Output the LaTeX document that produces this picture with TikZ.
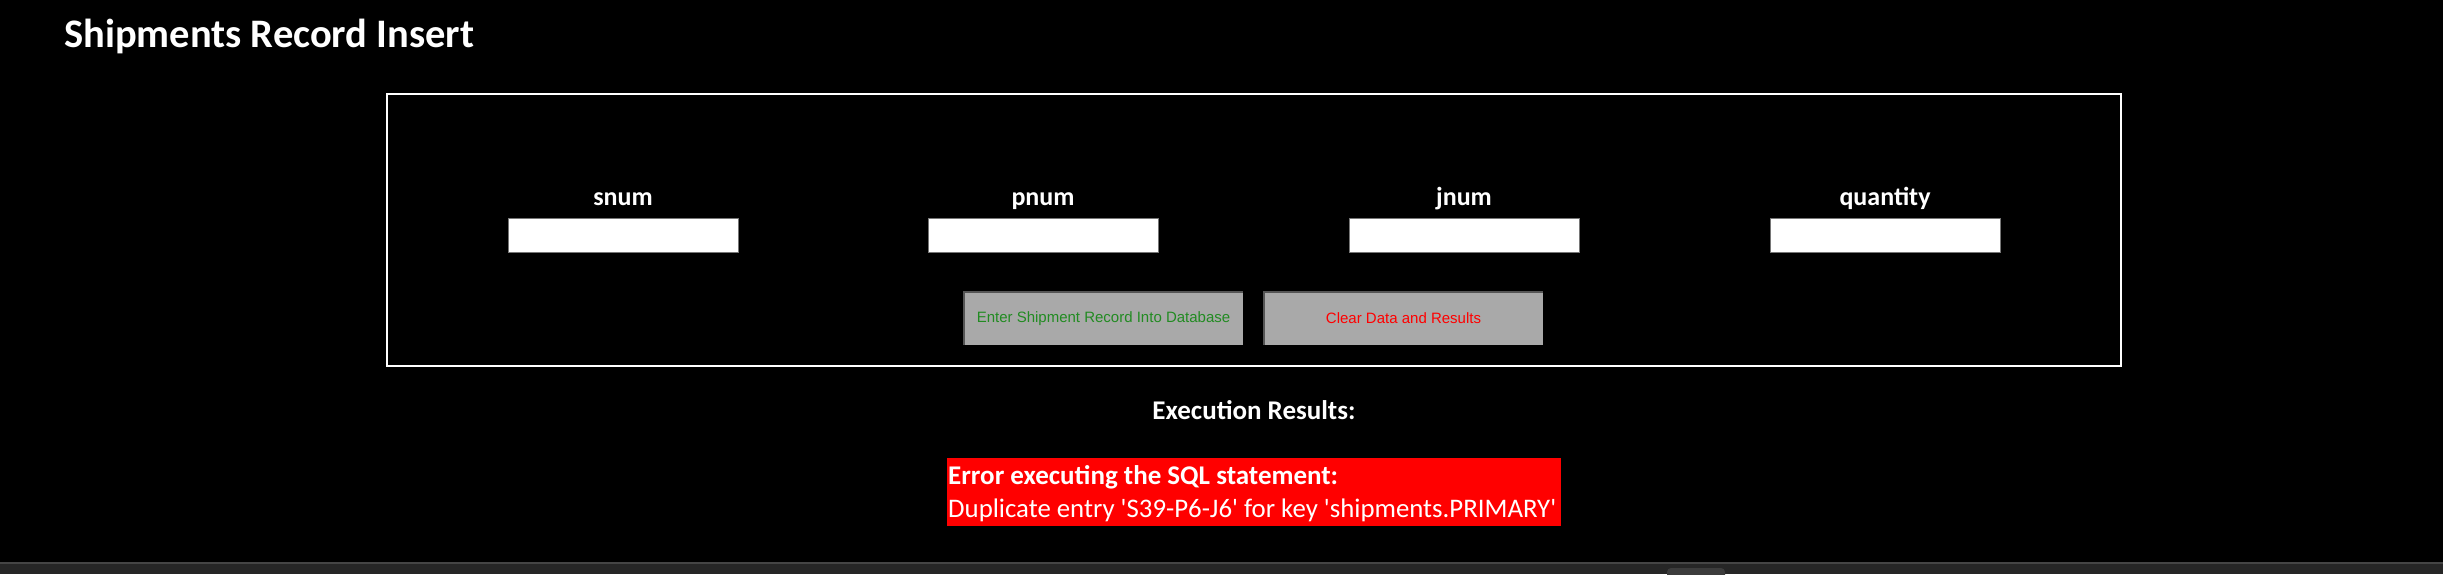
\documentclass[tikz,border=0pt]{standalone}
\usepackage{fontspec}
\setmainfont{Carlito}
\newfontfamily\arialfont{Liberation Sans}
\newfontfamily\straightquotes{Carlito}[Ligatures=TeXOff]
\usepackage{tikz}

\definecolor{btngray}{RGB}{169,169,169}
\definecolor{btnedge}{RGB}{85,85,85}
\definecolor{okgreen}{RGB}{34,139,34}
\definecolor{barfill}{RGB}{38,38,38}
\definecolor{barline}{RGB}{69,69,69}
\definecolor{barbtn}{RGB}{60,60,60}
\definecolor{inputedge}{RGB}{118,118,118}

\tikzset{
  fieldlabel/.style={text=white, font=\bfseries\fontsize{26}{30}\selectfont, inner sep=0pt, anchor=base},
  fieldbox/.style={draw=inputedge, fill=white, line width=1pt, minimum width=230pt, minimum height=34pt, inner sep=0pt},
  formbutton/.style={fill=btngray, minimum width=279pt, minimum height=53pt, inner sep=0pt, font=\arialfont\fontsize{15}{18}\selectfont},
  errline/.style={text=white, inner sep=0pt, anchor=base west},
}

\begin{document}
\begin{tikzpicture}[x=1pt,y=1pt,yscale=-1,xscale=1]
%page background
\fill [black] (0,0) rectangle (2443,574) ;
\useasboundingbox (0,0) rectangle (2443,574) ;

%Title
\node [text=white, font=\bfseries\fontsize{40.5}{46}\selectfont, inner sep=0pt, anchor=base west] (title) at (64,47) {Shipments Record Insert};

%Form frame
\draw [white, line width=2pt]  (387,94) rectangle (2121,366) ;

%Field labels
\node [fieldlabel] (snumlbl) at (623,205) {snum};
\node [fieldlabel] (pnumlbl) at (1043,205) {pnum};
\node [fieldlabel] (jnumlbl) at (1464,205) {jnum};
\node [fieldlabel] (qtylbl) at (1885,205) {quantity};

%Input fields
\node [fieldbox] (snum) at (623,235) {};
\node [fieldbox] (pnum) at (1043,235) {};
\node [fieldbox] (jnum) at (1464,235) {};
\node [fieldbox] (qty) at (1885,235) {};

%Buttons
\node [formbutton, text=okgreen] (enter) at (1103.5,318.5) {Enter Shipment Record Into Database};
\draw [btnedge, line width=2pt]  (enter.south west) -- (enter.north west) -- (enter.north east) ;
\node [formbutton, text=red] (clear) at (1403.5,318.5) {Clear Data and Results};
\draw [btnedge, line width=2pt]  (clear.south west) -- (clear.north west) -- (clear.north east) ;

%Results
\node [fieldlabel, font=\bfseries\fontsize{27}{31}\selectfont] (reslbl) at (1254,419) {Execution Results:};
\fill [red]  (947,458) rectangle (1561,526) ;
\node [errline, font=\bfseries\fontsize{27}{31}\selectfont] (errhead) at (948,484) {Error executing the SQL statement:};
\node [errline, font=\straightquotes\fontsize{26.8}{31}\selectfont] (errmsg) at (948,517) {Duplicate entry 'S39-P6-J6' for key 'shipments.PRIMARY'};

%Bottom bar
\fill [barfill]  (0,562) rectangle (2443,574) ;
\draw [barline, line width=2pt]  (0,563) -- (2443,563) ;
\fill [barbtn, rounded corners=4pt]  (1667,568) rectangle (1725,580) ;
\end{tikzpicture}
\end{document}
